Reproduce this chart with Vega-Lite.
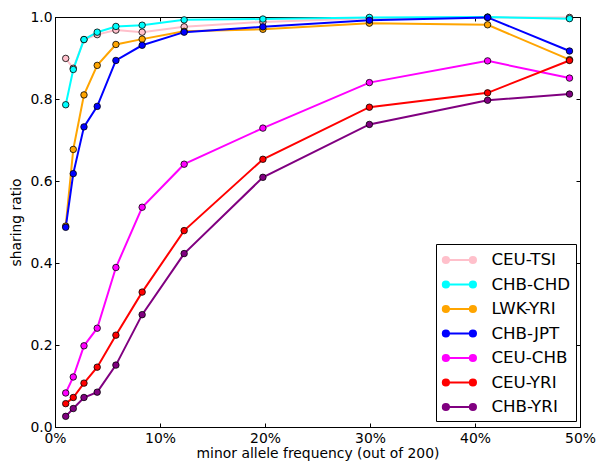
{
  "$schema": "https://vega.github.io/schema/vega-lite/v6.json",
  "width": 525,
  "height": 410,
  "autosize": "none",
  "padding": {"left": 55, "top": 17, "right": 22, "bottom": 35},
  "background": "white",
  "config": {
    "font": "DejaVu Sans",
    "view": {"stroke": "black", "strokeWidth": 1},
    "axis": {
      "grid": false,
      "domainColor": "black",
      "domainWidth": 1,
      "tickColor": "black",
      "tickWidth": 1,
      "tickSize": -4,
      "labelColor": "black",
      "labelFontSize": 13.9,
      "titleFontSize": 13.9,
      "titleFontWeight": "normal",
      "titleColor": "black"
    }
  },
  "data": {
    "values": [
      {"series": "CEU-TSI", "maf": 0.0102, "ratio": 0.899},
      {"series": "CEU-TSI", "maf": 0.0174, "ratio": 0.875},
      {"series": "CEU-TSI", "maf": 0.0276, "ratio": 0.945},
      {"series": "CEU-TSI", "maf": 0.0402, "ratio": 0.957},
      {"series": "CEU-TSI", "maf": 0.058, "ratio": 0.968},
      {"series": "CEU-TSI", "maf": 0.083, "ratio": 0.963},
      {"series": "CEU-TSI", "maf": 0.123, "ratio": 0.976},
      {"series": "CEU-TSI", "maf": 0.198, "ratio": 0.988},
      {"series": "CEU-TSI", "maf": 0.2994, "ratio": 0.997},
      {"series": "CEU-TSI", "maf": 0.412, "ratio": 0.999},
      {"series": "CEU-TSI", "maf": 0.49, "ratio": 0.999},
      {"series": "CHB-CHD", "maf": 0.0102, "ratio": 0.786},
      {"series": "CHB-CHD", "maf": 0.0174, "ratio": 0.872},
      {"series": "CHB-CHD", "maf": 0.0276, "ratio": 0.945},
      {"series": "CHB-CHD", "maf": 0.0402, "ratio": 0.963},
      {"series": "CHB-CHD", "maf": 0.058, "ratio": 0.977},
      {"series": "CHB-CHD", "maf": 0.083, "ratio": 0.98},
      {"series": "CHB-CHD", "maf": 0.123, "ratio": 0.993},
      {"series": "CHB-CHD", "maf": 0.198, "ratio": 0.995},
      {"series": "CHB-CHD", "maf": 0.2994, "ratio": 0.999},
      {"series": "CHB-CHD", "maf": 0.412, "ratio": 1.0},
      {"series": "CHB-CHD", "maf": 0.49, "ratio": 0.996},
      {"series": "LWK-YRI", "maf": 0.0102, "ratio": 0.49},
      {"series": "LWK-YRI", "maf": 0.0174, "ratio": 0.677},
      {"series": "LWK-YRI", "maf": 0.0276, "ratio": 0.81},
      {"series": "LWK-YRI", "maf": 0.0402, "ratio": 0.882},
      {"series": "LWK-YRI", "maf": 0.058, "ratio": 0.933},
      {"series": "LWK-YRI", "maf": 0.083, "ratio": 0.946},
      {"series": "LWK-YRI", "maf": 0.123, "ratio": 0.965},
      {"series": "LWK-YRI", "maf": 0.198, "ratio": 0.97},
      {"series": "LWK-YRI", "maf": 0.2994, "ratio": 0.985},
      {"series": "LWK-YRI", "maf": 0.412, "ratio": 0.981},
      {"series": "LWK-YRI", "maf": 0.49, "ratio": 0.896},
      {"series": "CHB-JPT", "maf": 0.0102, "ratio": 0.487},
      {"series": "CHB-JPT", "maf": 0.0174, "ratio": 0.618},
      {"series": "CHB-JPT", "maf": 0.0276, "ratio": 0.732},
      {"series": "CHB-JPT", "maf": 0.0402, "ratio": 0.782},
      {"series": "CHB-JPT", "maf": 0.058, "ratio": 0.894},
      {"series": "CHB-JPT", "maf": 0.083, "ratio": 0.931},
      {"series": "CHB-JPT", "maf": 0.123, "ratio": 0.963},
      {"series": "CHB-JPT", "maf": 0.198, "ratio": 0.976},
      {"series": "CHB-JPT", "maf": 0.2994, "ratio": 0.992},
      {"series": "CHB-JPT", "maf": 0.412, "ratio": 0.999},
      {"series": "CHB-JPT", "maf": 0.49, "ratio": 0.917},
      {"series": "CEU-CHB", "maf": 0.0102, "ratio": 0.083},
      {"series": "CEU-CHB", "maf": 0.0174, "ratio": 0.122},
      {"series": "CEU-CHB", "maf": 0.0276, "ratio": 0.198},
      {"series": "CEU-CHB", "maf": 0.0402, "ratio": 0.241},
      {"series": "CEU-CHB", "maf": 0.058, "ratio": 0.389},
      {"series": "CEU-CHB", "maf": 0.083, "ratio": 0.536},
      {"series": "CEU-CHB", "maf": 0.123, "ratio": 0.641},
      {"series": "CEU-CHB", "maf": 0.198, "ratio": 0.729},
      {"series": "CEU-CHB", "maf": 0.2994, "ratio": 0.84},
      {"series": "CEU-CHB", "maf": 0.412, "ratio": 0.893},
      {"series": "CEU-CHB", "maf": 0.49, "ratio": 0.851},
      {"series": "CEU-YRI", "maf": 0.0102, "ratio": 0.057},
      {"series": "CEU-YRI", "maf": 0.0174, "ratio": 0.072},
      {"series": "CEU-YRI", "maf": 0.0276, "ratio": 0.107},
      {"series": "CEU-YRI", "maf": 0.0402, "ratio": 0.146},
      {"series": "CEU-YRI", "maf": 0.058, "ratio": 0.224},
      {"series": "CEU-YRI", "maf": 0.083, "ratio": 0.329},
      {"series": "CEU-YRI", "maf": 0.123, "ratio": 0.479},
      {"series": "CEU-YRI", "maf": 0.198, "ratio": 0.653},
      {"series": "CEU-YRI", "maf": 0.2994, "ratio": 0.78},
      {"series": "CEU-YRI", "maf": 0.412, "ratio": 0.815},
      {"series": "CEU-YRI", "maf": 0.49, "ratio": 0.894},
      {"series": "CHB-YRI", "maf": 0.0102, "ratio": 0.026},
      {"series": "CHB-YRI", "maf": 0.0174, "ratio": 0.045},
      {"series": "CHB-YRI", "maf": 0.0276, "ratio": 0.072},
      {"series": "CHB-YRI", "maf": 0.0402, "ratio": 0.085},
      {"series": "CHB-YRI", "maf": 0.058, "ratio": 0.151},
      {"series": "CHB-YRI", "maf": 0.083, "ratio": 0.274},
      {"series": "CHB-YRI", "maf": 0.123, "ratio": 0.423},
      {"series": "CHB-YRI", "maf": 0.198, "ratio": 0.609},
      {"series": "CHB-YRI", "maf": 0.2994, "ratio": 0.738},
      {"series": "CHB-YRI", "maf": 0.412, "ratio": 0.797},
      {"series": "CHB-YRI", "maf": 0.49, "ratio": 0.812}
    ]
  },
  "layer": [
    {
      "mark": {
        "type": "line",
        "strokeWidth": 2,
        "clip": false,
        "point": {"filled": true, "size": 42, "stroke": "black", "strokeWidth": 0.8, "opacity": 1}
      },
      "encoding": {
        "x": {
          "field": "maf", "type": "quantitative",
          "scale": {"domain": [0, 0.5], "nice": false, "zero": false},
          "axis": {"orient": "bottom", "values": [0, 0.1, 0.2, 0.3, 0.4, 0.5], "format": ".0%", "labelPadding": 8, "title": "minor allele frequency (out of 200)", "titlePadding": 2, "labelFlush": false}
        },
        "y": {
          "field": "ratio", "type": "quantitative",
          "scale": {"domain": [0, 1], "nice": false},
          "axis": {"orient": "left", "values": [0, 0.2, 0.4, 0.6, 0.8, 1.0], "format": ".1f", "labelPadding": 7, "title": "sharing ratio", "titlePadding": 6}
        },
        "color": {
          "field": "series", "type": "nominal",
          "scale": {
            "domain": ["CEU-TSI", "CHB-CHD", "LWK-YRI", "CHB-JPT", "CEU-CHB", "CEU-YRI", "CHB-YRI"],
            "range": ["#ffc0cb", "#00ffff", "#ffa500", "#0000ff", "#ff00ff", "#ff0000", "#800080"]
          },
          "legend": {
            "title": null,
            "orient": "none",
            "legendX": 381,
            "legendY": 227,
            "strokeColor": "black",
            "fillColor": "white",
            "padding": 5,
            "cornerRadius": 0,
            "labelFontSize": 16.7,
            "labelColor": "black",
            "labelOffset": 21,
            "rowPadding": 4.5,
            "symbolSize": 400,
            "symbolOffset": 7.4,
            "symbolStrokeWidth": 1.8,
            "symbolType": "M-1.35,0L1.35,0M-1.03,0A0.32,0.32,0,1,1,-1.67,0A0.32,0.32,0,1,1,-1.03,0ZM1.67,0A0.32,0.32,0,1,1,1.03,0A0.32,0.32,0,1,1,1.67,0Z",
            "encode": {
              "symbols": {
                "update": {
                  "fill": {"signal": "scale('color', datum.value)"},
                  "stroke": {"signal": "scale('color', datum.value)"},
                  "fillOpacity": {"value": 1}
                }
              }
            }
          }
        }
      }
    },
    {
      "mark": {"type": "point", "opacity": 0},
      "encoding": {
        "x": {
          "field": "maf", "type": "quantitative",
          "axis": {"orient": "top", "values": [0, 0.1, 0.2, 0.3, 0.4, 0.5], "labels": false, "title": null}
        },
        "y": {
          "field": "ratio", "type": "quantitative",
          "axis": {"orient": "right", "values": [0, 0.2, 0.4, 0.6, 0.8, 1.0], "labels": false, "title": null}
        }
      }
    }
  ],
  "resolve": {"axis": {"x": "independent", "y": "independent"}}
}
